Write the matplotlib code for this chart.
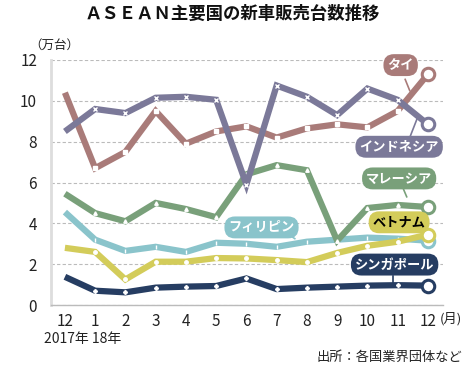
import matplotlib
matplotlib.use("Agg")
import matplotlib.pyplot as plt

plt.rcParams['font.family'] = ['Noto Sans CJK JP', 'DejaVu Sans']

months = ["12", "1", "2", "3", "4", "5", "6", "7", "8", "9", "10", "11", "12"]
thailand = [10.4, 6.7, 7.5, 9.5, 7.9, 8.5, 8.75, 8.2, 8.65, 8.85, 8.7, 9.5, 11.3]
indonesia = [8.5, 9.6, 9.4, 10.15, 10.2, 10.05, 5.9, 10.75, 10.2, 9.3, 10.6, 10.05, 8.85]
malaysia = [5.45, 4.5, 4.1, 5.0, 4.7, 4.3, 6.4, 6.85, 6.6, 3.15, 4.75, 4.9, 4.8]
philippines = [4.55, 3.2, 2.65, 2.85, 2.6, 3.05, 3.0, 2.85, 3.1, 3.2, 3.3, 3.25, 3.15]
vietnam = [2.8, 2.6, 1.25, 2.12, 2.12, 2.3, 2.28, 2.2, 2.1, 2.55, 2.9, 3.1, 3.45]
singapore = [1.38, 0.7, 0.62, 0.85, 0.9, 0.93, 1.3, 0.78, 0.85, 0.9, 0.95, 0.97, 0.95]
yticks = [0, 2, 4, 6, 8, 10, 12]

names = ["タイ", "インドネシア", "マレーシア", "フィリピン", "ベトナム", "シンガポール"]
series = [thailand, indonesia, malaysia, philippines, vietnam, singapore]
colors = ["#a97b79", "#7b7999", "#79a07a", "#8ac4cb", "#d3cc5a", "#263d62"]
markers = ["s", "x", "^", "|", "o", "P"]

fig = plt.figure(figsize=(4.65, 3.68), dpi=100)
ax = fig.add_axes([51/465, 1-305/368, (443-51)/465, (305-60)/368])
x = list(range(len(months)))

order = [5, 3, 4, 2, 0, 1]
for z, i in enumerate(order):
    ys = series[i]
    c = colors[i]
    ax.plot(x, ys, color=c, lw=4.5, solid_capstyle='butt', solid_joinstyle='miter', zorder=3+z)
    ax.plot(x[1:-1], ys[1:-1], ls='none', marker=markers[i], ms=2.5, mew=1.0,
            mfc='white', mec='white', zorder=3+z)
    ax.plot(x[-1:], ys[-1:], ls='none', marker='o', ms=9, mew=2.2, mfc='white', mec=c,
            zorder=3+z)

ax.set_xlim(-0.46, 12.5)
ax.set_ylim(0, 12)
ax.set_yticks(yticks)
ax.set_xticks(x)
ax.set_xticklabels(months)
ax.tick_params(length=0, labelsize=11, pad=6)
ax.tick_params(axis='y', pad=10)
for t in ax.get_yticklabels() + ax.get_xticklabels():
    t.set_color('#222222')
ax.grid(axis='y', ls=(0, (3, 2)), color='#bbbbbb', lw=0.8)
ax.set_axisbelow(True)
for s in ['top', 'right']:
    ax.spines[s].set_visible(False)
ax.spines['left'].set_color('#dddddd')
ax.spines['left'].set_linewidth(2)
ax.spines['bottom'].set_color('#bbbbbb')
ax.spines['bottom'].set_linewidth(1)

labels = [
    (0, 11.1, 11.75, (11.25, 11.05), (11.4, 10.5), 'white'),
    (1, 11.05, 7.75, (11.4, 8.2), (11.65, 9.15), 'white'),
    (2, 11.05, 6.2, (11.2, 5.65), (11.3, 5.3), 'white'),
    (3, 6.5, 3.8, (7.3, 3.55), (7.6, 3.25), 'white'),
    (4, 11.05, 4.05, (11.7, 3.75), (11.85, 3.55), 'black'),
    (5, 10.9, 1.98, (10.85, 1.42), (10.85, 1.1), 'white'),
]
for i, lx, ly, p0, p1, tc in labels:
    ax.plot([p0[0], p1[0]], [p0[1], p1[1]], color=colors[i], lw=1.2, zorder=20)
    ax.text(lx, ly, names[i], ha='center', va='center', fontsize=9.5, color=tc,
            fontweight='bold', zorder=21,
            bbox=dict(boxstyle='round,pad=0.3,rounding_size=0.8', fc=colors[i], ec='none'))

fig.text(232/465, 1-14/368, "ＡＳＥＡＮ主要国の新車販売台数推移", ha='center', va='center',
         fontsize=12.5, fontweight='bold', color='#111111')
fig.text(29/465, 1-45/368, "（万台）", ha='left', va='center', fontsize=9, color='#222222')
fig.text(440/465, 1-319/368, "(月)", ha='left', va='center', fontsize=9.5, color='#222222')
fig.text(44/465, 1-339/368, "2017年 18年", ha='left', va='center', fontsize=10, color='#222222')
fig.text(462/465, 1-357/368, "出所：各国業界団体など", ha='right', va='center', fontsize=9.5,
         color='#222222')

fig.savefig("out.png", dpi=100)
